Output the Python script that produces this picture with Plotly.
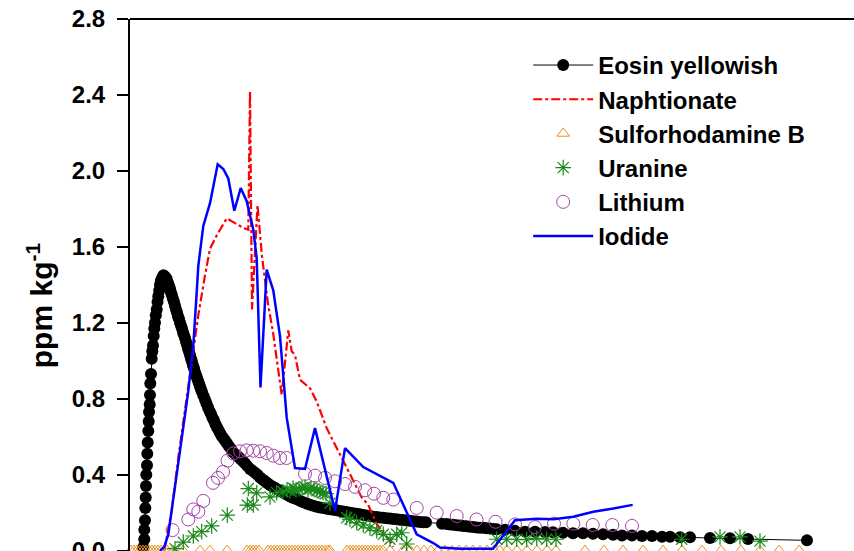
import plotly.graph_objects as go

# time axis (arbitrary units; axis not visible in the reference crop)
eosin_t = [1.33,1.43,1.43,1.50,1.53,1.57,1.60,1.63,1.70,1.73,1.77,1.83,1.87,1.90,1.97,2.00,2.03,2.10,2.17,2.23,
           2.30,2.37,2.43,2.50,2.58,2.67,2.75,2.83,2.92,3.00,3.08,3.17,3.25,3.35,3.45,3.55,3.67,3.8,3.9,4.0,
           4.1,4.2,4.3,4.4,4.5,4.6,4.7,4.8,4.9,5.0,5.1,5.2,5.3,5.4,5.5,5.6,5.7,5.8,5.9,6.0,
           6.1,6.2,6.3,6.4,6.5,6.6,6.7,6.8,6.9,7.0,7.1,7.2,7.35,7.5,7.65,7.8,7.95,8.1,8.25,8.4,
           8.55,8.7,8.85,9.0,9.15,9.3,9.5,9.7,9.9,10.1,10.3,10.5,10.7,10.9,11.1,11.3,11.5,11.75,12.0,12.25,
           12.5,12.75,13.0,13.25,13.5,13.75,14.0,14.25,14.5,14.75,15.0,15.33,15.67,16.0,16.33,16.67,17.0,17.33,17.67,18.0,
           18.33,18.67,19.0,19.33,19.67,20.0,20.33,20.67,21.0,21.33,21.67,22.0,22.33,22.67,23.0,23.33,23.67,24.0,24.33,24.67,
           25.0,25.33,25.67,26.0,26.33,26.67,27.0,27.33,27.67,28.0,28.33,28.67,29.0,29.33,29.6,31.2,31.67,32.0,32.33,32.67,
           33.0,33.33,33.67,34.0,34.33,34.67,35.0,35.33,35.67,36.0,36.33,36.67,37.5,38.5,39.5,40.5,41.5,42.3,43.3,44.3,
           45.3,46.3,47.3,48.3,49.2,50.2,51.2,52.2,53.2,54.0,55.0,56.0,58.0,60.0,61.8,67.7]
eosin_c = [0.016,0.06,0.11,0.16,0.225,0.28,0.34,0.40,0.45,0.51,0.57,0.63,0.68,0.73,0.77,0.82,0.88,0.93,1.01,1.05,
           1.08,1.13,1.17,1.20,1.24,1.27,1.31,1.34,1.37,1.40,1.42,1.43,1.44,1.45,1.445,1.44,1.43,1.41,1.395,1.38,
           1.36,1.345,1.325,1.31,1.29,1.27,1.255,1.235,1.22,1.20,1.185,1.17,1.15,1.135,1.12,1.10,1.085,1.065,1.05,1.03,
           1.01,0.995,0.975,0.96,0.94,0.925,0.91,0.895,0.88,0.865,0.85,0.835,0.815,0.795,0.775,0.755,0.735,0.72,0.70,0.685,
           0.665,0.65,0.635,0.62,0.605,0.595,0.58,0.565,0.55,0.535,0.52,0.51,0.50,0.49,0.48,0.47,0.46,0.445,0.43,0.42,
           0.41,0.40,0.385,0.375,0.365,0.355,0.345,0.338,0.33,0.322,0.315,0.305,0.295,0.285,0.277,0.27,0.262,0.255,0.248,0.242,
           0.236,0.231,0.227,0.224,0.221,0.218,0.215,0.212,0.209,0.206,0.203,0.20,0.197,0.194,0.191,0.188,0.185,0.182,0.179,0.177,
           0.175,0.173,0.171,0.169,0.167,0.165,0.163,0.161,0.159,0.157,0.155,0.153,0.151,0.15,0.149,0.142,0.14,0.138,0.136,0.134,
           0.132,0.13,0.128,0.126,0.124,0.122,0.121,0.12,0.118,0.116,0.114,0.112,0.11,0.104,0.10,0.099,0.098,0.097,0.094,0.092,
           0.091,0.089,0.086,0.083,0.08,0.08,0.077,0.077,0.073,0.073,0.07,0.07,0.066,0.065,0.061,0.054]

naph_t = [3.43,4.17,4.83,5.5,6.17,6.83,7.5,8.0,8.67,9.67,10.5,11.33,11.83,12.0,12.2,12.75,13.2,13.8,14.3,15.17,
          15.83,16.17,16.5,17.0,18.0,18.67,19.67,20.67,21.17,22.33,23.17,23.83,24.67,26.0,26.33]
naph_c = [0.0,0.21,0.49,0.75,1.01,1.24,1.45,1.59,1.66,1.75,1.725,1.70,1.69,2.42,1.27,1.82,1.55,1.30,1.15,0.82,
          1.16,1.05,1.03,0.90,0.855,0.785,0.645,0.54,0.49,0.36,0.28,0.24,0.14,0.05,0.02]

sulfo_t = [0.1,0.4,0.7,1.0,1.3,1.6,1.9,2.2,2.5,2.8,3.1,3.4,3.7,4.3,5.3,7.0,8.0,9.7,11.7,12.0,
           12.3,12.6,12.9,13.8,14.1,14.4,14.7,15.0,15.3,15.6,15.9,16.2,16.5,16.8,17.1,17.4,17.7,18.0,18.3,18.6,
           18.9,19.2,19.5,19.8,20.0,21.7,22.0,22.3,22.6,22.9,23.2,23.5,23.8,24.1,24.4,24.7,25.0,25.3,26.0,27.3,
           28.0,28.7,29.4,30.1,30.8,31.5,32.2,32.9,33.6,34.3,35.0,35.7,36.4,37.0,37.7,38.7,39.7,40.7,41.7,42.6,
           45.5,47.4,49.3,51.3,53.3,55.2,57.2,59.1,61.1,63.0,64.9,66.9]
sulfo_c = [0.0] * len(sulfo_t)

uran_t = [4.5,5.33,6.33,7.17,8.17,9.73,11.73,12.33,11.83,12.67,14.0,14.67,15.3,15.7,16.0,16.3,16.6,16.9,17.2,17.5,
          17.8,18.1,18.4,18.7,19.0,19.3,19.6,20.0,21.67,22.0,22.67,23.33,24.0,24.67,25.33,26.0,26.67,27.17,27.67,36.67,
          37.67,38.67,39.67,40.67,41.67,42.6,55.17,59.0,61.0,63.0]
uran_c = [0.01,0.045,0.077,0.10,0.13,0.187,0.24,0.24,0.327,0.304,0.283,0.305,0.31,0.32,0.315,0.33,0.32,0.325,0.33,0.335,
          0.32,0.33,0.325,0.315,0.31,0.305,0.30,0.25,0.173,0.165,0.147,0.135,0.12,0.105,0.086,0.06,0.086,0.094,0.035,0.06,
          0.06,0.06,0.058,0.065,0.06,0.06,0.06,0.072,0.072,0.05]

lith_t = [4.25,5.83,6.33,6.83,7.33,8.3,8.8,9.3,9.75,10.33,11.0,11.67,12.33,13.0,13.67,14.33,15.0,15.65,17.5,18.5,
          19.5,20.5,21.5,22.5,23.5,24.4,25.33,26.33,28.67,30.67,32.67,34.65,36.55,38.5,40.5,42.4,44.33,46.27,48.23,50.2]
lith_c = [0.108,0.164,0.217,0.205,0.262,0.357,0.383,0.415,0.474,0.512,0.523,0.528,0.526,0.523,0.514,0.50,0.488,0.488,0.404,0.395,
          0.383,0.365,0.351,0.336,0.318,0.30,0.278,0.269,0.225,0.20,0.182,0.164,0.152,0.138,0.124,0.142,0.142,0.135,0.135,0.13]

iod_t = [3.0,3.43,3.83,4.5,5.17,5.83,6.33,6.67,6.83,7.33,8.0,8.77,9.33,9.83,10.43,11.07,11.67,12.33,12.67,13.05,
         13.67,14.33,15.0,15.67,16.5,17.5,18.5,20.5,21.5,23.33,26.33,28.67,30.33,31.0,33.0,36.3,38.5,40.67,42.33,44.33,
         46.33,48.33,50.27]
iod_c = [0.0,0.02,0.085,0.35,0.59,0.84,1.08,1.36,1.50,1.71,1.83,2.035,2.01,1.96,1.79,1.91,1.84,1.69,1.54,0.86,
         1.48,1.37,1.13,0.70,0.435,0.43,0.645,0.21,0.54,0.44,0.357,0.086,0.04,0.016,0.01,0.01,0.16,0.168,0.165,0.178,
         0.205,0.222,0.241]

y_ticks = [0.0, 0.4, 0.8, 1.2, 1.6, 2.0, 2.4, 2.8]
y_tick_text = ["0.0", "0.4", "0.8", "1.2", "1.6", "2.0", "2.4", "2.8"]

FONT = "Liberation Sans, Arial, sans-serif"

fig = go.Figure()
fig.add_trace(go.Scatter(x=eosin_t, y=eosin_c, name="Eosin yellowish", mode="lines+markers",
                         line=dict(color="black", width=1),
                         marker=dict(symbol="circle", size=12, color="black"), cliponaxis=False))
fig.add_trace(go.Scatter(x=naph_t, y=naph_c, name="Naphtionate", mode="lines",
                         line=dict(color="#ff0000", width=2.2, dash="dashdot"), cliponaxis=False))
fig.add_trace(go.Scatter(x=sulfo_t, y=sulfo_c, name="Sulforhodamine B", mode="markers",
                         marker=dict(symbol="triangle-up-open", size=11, color="#e8901e", line=dict(width=1)),
                         cliponaxis=False))
fig.add_trace(go.Scatter(x=uran_t, y=uran_c, name="Uranine", mode="markers",
                         marker=dict(symbol="asterisk-open", size=13, color="#1a881a", line=dict(width=1.2, color="#1a881a")),
                         cliponaxis=False))
fig.add_trace(go.Scatter(x=lith_t, y=lith_c, name="Lithium", mode="markers",
                         marker=dict(symbol="circle-open", size=13, color="#a444a4", line=dict(width=1)),
                         cliponaxis=False))
fig.add_trace(go.Scatter(x=iod_t, y=iod_c, name="Iodide", mode="lines",
                         line=dict(color="#0000ff", width=2.5), cliponaxis=False))

fig.update_layout(
    width=854, height=551,
    margin=dict(l=130, r=0, t=19, b=0, autoexpand=False),
    paper_bgcolor="white", plot_bgcolor="white",
    font=dict(family=FONT, color="black"),
    xaxis=dict(range=[0, 72.4], visible=False, automargin=False),
    yaxis=dict(range=[-0.002, 2.8], tickvals=y_ticks, ticktext=y_tick_text, automargin=False,
               showline=True, linecolor="black", linewidth=2,
               ticks="outside", ticklen=11, tickwidth=2, tickcolor="black",
               showgrid=False, zeroline=False, ticklabelstandoff=7, ticklabeloverflow="allow",
               tickfont=dict(size=24, family=FONT, weight="bold")),
    legend=dict(x=0.55, y=0.955, xanchor="left", yanchor="top", bgcolor="rgba(0,0,0,0)",
                font=dict(size=24, family=FONT, weight="bold"), itemwidth=60, tracegroupgap=0),
    showlegend=True,
    shapes=[dict(type="line", xref="paper", yref="paper", x0=0, x1=1, y0=1, y1=1,
                 line=dict(color="black", width=2))],
    annotations=[
        dict(text="ppm kg<sup>-1</sup>", xref="paper", yref="paper", x=0, y=0.462, xanchor="center",
             yanchor="middle", xshift=-90, textangle=-90, showarrow=False,
             font=dict(size=30, family=FONT, weight="bold")),
    ],
)

fig.write_html("out.html")
